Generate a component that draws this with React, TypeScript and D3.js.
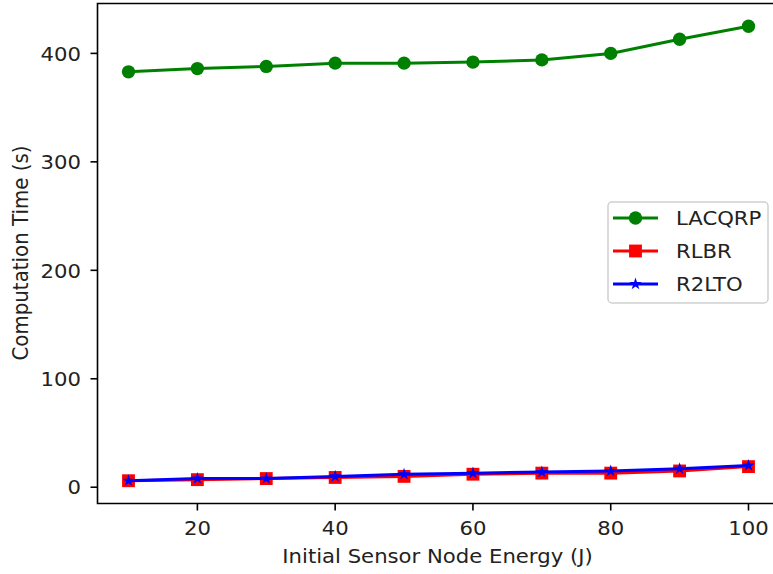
import React from "react";
import * as d3 from "d3";

const energies = [10, 20, 30, 40, 50, 60, 70, 80, 90, 100];
const lacqrp = [383, 386, 388, 391, 391, 392, 394, 400, 413, 425];
const rlbr = [6, 7, 8, 9, 10, 12, 13, 13, 15, 19];
const r2lto = [6, 8, 8, 10, 12, 13, 14, 15, 17, 20];
const xTicks = [20, 40, 60, 80, 100];
const yTicks = [0, 100, 200, 300, 400];
const seriesNames = ["LACQRP", "RLBR", "R2LTO"];

const W = 773;
const H = 574;
const FONT = "DejaVu Sans, sans-serif";
const FS = 19.8;
const SX = 1.07;

function HText(props: { x: number; y: number; anchor?: string; children: React.ReactNode }) {
  return (
    <text
      transform={`translate(${props.x},${props.y}) scale(${SX},1)`}
      textAnchor={props.anchor || "start"}
      fontSize={FS}
      fill="#222"
    >
      {props.children}
    </text>
  );
}

export default function App() {
  const x = d3.scaleLinear().domain([5.5, 104.5]).range([97.5, 779.5]);
  const y = d3.scaleLinear().domain([-15, 446]).range([503.5, 3.5]);

  const series = [
    { name: seriesNames[0], values: lacqrp, color: "#008000", symbol: d3.symbolCircle, size: 140 },
    { name: seriesNames[1], values: rlbr, color: "#ff0000", symbol: d3.symbolSquare, size: 165 },
    { name: seriesNames[2], values: r2lto, color: "#0000ff", symbol: d3.symbolStar, size: 48 },
  ];

  const line = d3
    .line<number>()
    .x((_, i) => x(energies[i]))
    .y((d) => y(d));

  const left = 97.5;
  const top = 3.5;
  const bottom = 503.5;
  const right = 779.5;

  const legendRows = [218, 251, 284];

  return (
    <svg
      width={W}
      height={H}
      style={{ position: "absolute", left: 0, top: 0, display: "block", background: "#fff" }}
      fontFamily={FONT}
    >
      <rect x={0} y={0} width={W} height={H} fill="#fff" />
      {series.map((s) => (
        <g key={s.name}>
          <path d={line(s.values) || ""} fill="none" stroke={s.color} strokeWidth={3} />
          {s.values.map((v, i) => (
            <path
              key={i}
              d={d3.symbol().type(s.symbol).size(s.size)() || ""}
              transform={`translate(${x(energies[i])},${y(v)})`}
              fill={s.color}
            />
          ))}
        </g>
      ))}
      {/* spines */}
      <path
        d={`M${right},${top}H${left}V${bottom}H${right}`}
        fill="none"
        stroke="#000"
        strokeWidth={1.6}
      />
      {/* x ticks */}
      {xTicks.map((t) => (
        <g key={t}>
          <line x1={x(t)} x2={x(t)} y1={bottom} y2={bottom + 7} stroke="#000" strokeWidth={1.6} />
          <HText x={x(t)} y={535} anchor="middle">
            {t}
          </HText>
        </g>
      ))}
      {/* y ticks */}
      {yTicks.map((t) => (
        <g key={t}>
          <line x1={left - 7} x2={left} y1={y(t)} y2={y(t)} stroke="#000" strokeWidth={1.6} />
          <HText x={81} y={y(t) + 7.2} anchor="end">
            {t}
          </HText>
        </g>
      ))}
      <HText x={437.5} y={563} anchor="middle">
        Initial Sensor Node Energy (J)
      </HText>
      <text
        transform={`translate(27.5,253) rotate(-90) scale(1,${SX})`}
        textAnchor="middle"
        fontSize={FS}
        fill="#222"
      >
        Computation Time (s)
      </text>
      {/* legend */}
      <rect
        x={608}
        y={202}
        width={160}
        height={101}
        rx={4}
        fill="#fff"
        fillOpacity={0.8}
        stroke="#d0d0d0"
        strokeWidth={1.5}
      />
      {series.map((s, i) => (
        <g key={s.name}>
          <line x1={613} x2={658} y1={legendRows[i]} y2={legendRows[i]} stroke={s.color} strokeWidth={3} />
          <path
            d={d3.symbol().type(s.symbol).size(s.size)() || ""}
            transform={`translate(635.5,${legendRows[i]})`}
            fill={s.color}
          />
          <HText x={676} y={legendRows[i] + 7.2}>
            {s.name}
          </HText>
        </g>
      ))}
    </svg>
  );
}
